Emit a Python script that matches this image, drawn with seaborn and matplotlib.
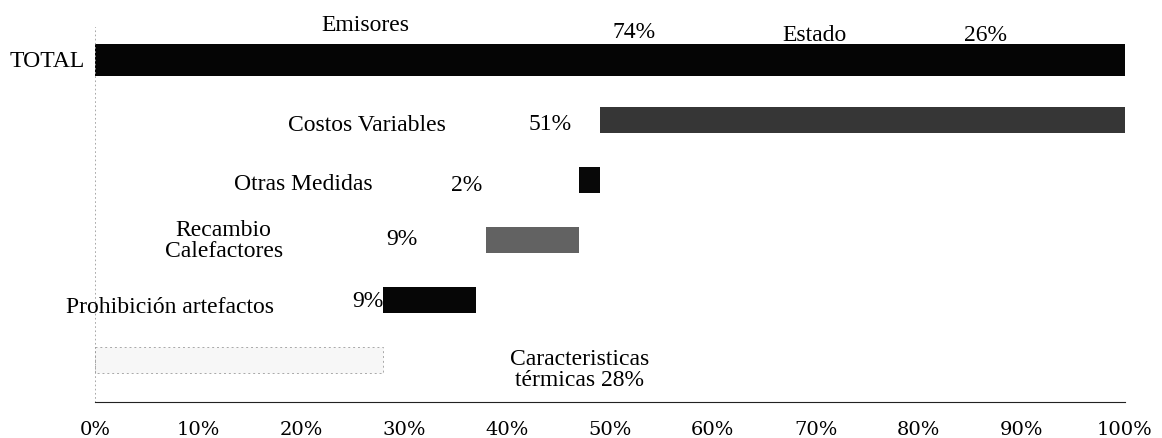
import matplotlib
matplotlib.use("Agg")
import matplotlib.pyplot as plt
import seaborn as sns
import pandas as pd

# ---- data ----
categories = ["TOTAL", "Costos Variables", "Otras Medidas", "Recambio Calefactores",
              "Prohibición artefactos", "Caracteristicas térmicas"]
starts = [0, 49, 47, 38, 28, 0]
widths = [100, 51, 2, 9, 9, 28]
pct_labels = ["", "51%", "2%", "9%", "9%", ""]
top_labels = ["Emisores", "74%", "Estado", "26%"]
xticks = [0, 10, 20, 30, 40, 50, 60, 70, 80, 90, 100]
xtick_labels = [f"{t}%" for t in xticks]

colors = {"TOTAL": "#050505", "Costos Variables": "#363636", "Otras Medidas": "#080808",
          "Recambio Calefactores": "#626262", "Prohibición artefactos": "#060606",
          "Caracteristicas térmicas": "#f7f7f7"}

df = pd.DataFrame({"cat": categories, "start": starts, "width": widths})

sns.set_style("white")
plt.rcParams["font.family"] = ["Liberation Serif", "DejaVu Serif"]
plt.rcParams["text.color"] = "black"
plt.rcParams["xtick.color"] = "black"

fig = plt.figure(figsize=(11.62, 4.39), dpi=100)
ax = fig.add_axes([0.0818, 0.0820, 0.886, 0.854])

sns.barplot(data=df, x="width", y="cat", hue="cat", palette=colors, orient="h",
            width=0.42, legend=False, ax=ax, linewidth=0)

for patch, s, cat in zip(ax.patches, df["start"], df["cat"]):
    patch.set_x(s)
    if cat == "TOTAL":
        cy = patch.get_y() + patch.get_height() / 2
        patch.set_height(0.52)
        patch.set_y(cy - 0.26)
    if cat == "Caracteristicas térmicas":
        patch.set_edgecolor("#a8a8a8")
        patch.set_linewidth(0.7)
        patch.set_linestyle((0, (2, 3)))

ax.set_xlim(0, 100)
ax.set_ylim(5.70, -0.55)
ax.set_xticks(xticks)
ax.set_xticklabels(xtick_labels, fontsize=14, family="DejaVu Serif", color="black")
ax.set_yticks([])
ax.set_xlabel("")
ax.set_ylabel("")
ax.tick_params(axis="x", direction="inout", length=4, width=0.6, color="#777777", pad=11)

for side in ["top", "right"]:
    ax.spines[side].set_visible(False)
ax.spines["bottom"].set_color("#222222")
ax.spines["bottom"].set_linewidth(0.8)
ax.spines["left"].set_color("#999999")
ax.spines["left"].set_linewidth(0.6)
ax.spines["left"].set_linestyle((0, (1, 4)))

fs = 17
# top labels
ax.text(26.3, -0.6, top_labels[0], ha="center", va="center", fontsize=fs, clip_on=False)
ax.text(52.4, -0.47, top_labels[1], ha="center", va="center", fontsize=fs)
ax.text(69.9, -0.42, top_labels[2], ha="center", va="center", fontsize=fs)
ax.text(86.5, -0.42, top_labels[3], ha="center", va="center", fontsize=fs)
ax.text(-1.0, 0.0, "TOTAL", ha="right", va="center", fontsize=fs, clip_on=False)

# category labels
ax.text(26.4, 1.08, "Costos Variables", ha="center", va="center", fontsize=fs)
ax.text(44.2, 1.05, pct_labels[1], ha="center", va="center", fontsize=fs)
ax.text(20.2, 2.05, "Otras Medidas", ha="center", va="center", fontsize=fs)
ax.text(36.1, 2.07, pct_labels[2], ha="center", va="center", fontsize=fs)
ax.text(12.5, 3.0, "Recambio\nCalefactores", ha="center", va="center", fontsize=fs,
        linespacing=1.05)
ax.text(29.8, 2.98, pct_labels[3], ha="center", va="center", fontsize=fs)
ax.text(7.3, 4.1, "Prohibición artefactos", ha="center", va="center", fontsize=fs)
ax.text(28.0, 4.0, pct_labels[4], ha="right", va="center", fontsize=fs)
ax.text(47.1, 5.15, "Caracteristicas\ntérmicas 28%", ha="center", va="center", fontsize=fs,
        linespacing=1.05)

fig.savefig("out.png", dpi=100)
